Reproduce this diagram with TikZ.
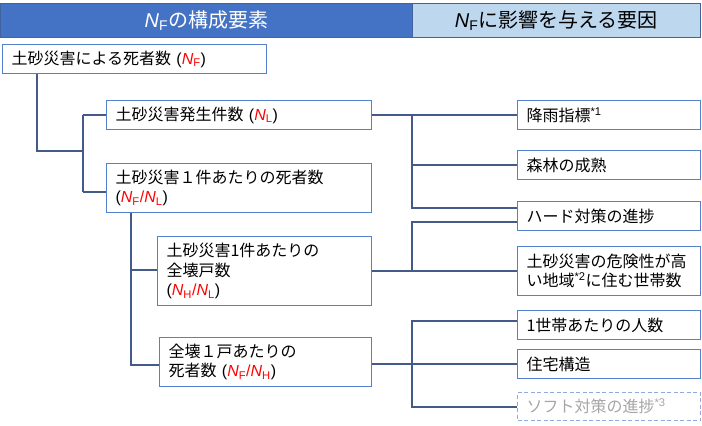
\documentclass[tikz,border=0pt]{standalone}
\usepackage{fontspec}
\setmainfont{Noto Sans CJK JP}
\newfontfamily\latf{Liberation Sans}
\usetikzlibrary{calc}
\definecolor{hdark}{HTML}{4472C4}
\definecolor{hlight}{HTML}{BDD7EE}
\definecolor{hborder}{HTML}{41649E}
\definecolor{boxc}{HTML}{5580CC}
\definecolor{linec}{HTML}{445A88}
\definecolor{softc}{HTML}{8FAADC}
\definecolor{softt}{HTML}{A6A6A6}
\definecolor{redt}{HTML}{FF0000}
\newcommand{\NS}[1]{{\latf\textit{N}\textsubscript{#1}}}
\newcommand{\LP}{{\latf(}}
\newcommand{\RP}{{\latf)}}
\newcommand{\SUP}[1]{{\latf\textsuperscript{#1}}}
\tikzset{
  hdr/.style={rectangle, draw=hborder, line width=0.8pt, anchor=north west, inner sep=0pt, font=\fontsize{20}{24}\selectfont},
  box/.style={rectangle, draw=boxc, line width=1.2pt, fill=white, anchor=north west, align=left, inner xsep=9pt, inner ysep=0pt, font=\fontsize{16}{19.5}\selectfont},
  softbox/.style={box, draw=softc, dash pattern=on 4pt off 2.5pt, text=softt},
  conn/.style={draw=linec, line width=1.25pt}
}
\begin{document}
\begin{tikzpicture}[x=1pt,y=-1pt]
\useasboundingbox (0,0) rectangle (702,426);
% headers
\node[hdr, fill=hdark, text=white, minimum width=412pt, minimum height=34pt] (h1) at (0,3) {\NS{F}の構成要素};
\node[hdr, fill=hlight, text=black, minimum width=288pt, minimum height=34pt] (h2) at (412,3) {\NS{F}に影響を与える要因};
% left boxes
\node[box, text width=246pt, minimum height=29pt] (b1) at (2,44) {土砂災害による死者数 \LP{\color{redt}\NS{F}}\RP};
\node[box, text width=247pt, minimum height=29pt] (b2) at (106,100) {土砂災害発生件数 \LP{\color{redt}\NS{L}}\RP};
\node[box, text width=247pt, minimum height=49pt] (b3) at (106,163) {土砂災害１件あたりの死者数\\\LP{\color{redt}\NS{F}{\latf/}\NS{L}}\RP};
\node[box, text width=196pt, minimum height=69pt] (b4) at (157,236) {土砂災害1件あたりの\\全壊戸数\\\LP{\color{redt}\NS{H}{\latf/}\NS{L}}\RP};
\node[box, text width=194pt, minimum height=49pt] (b5) at (159,337) {全壊１戸あたりの\\死者数 \LP{\color{redt}\NS{F}{\latf/}\NS{H}}\RP};
% right boxes
\node[box, text width=165pt, minimum height=29pt] (r1) at (517,100) {降雨指標\SUP{*1}};
\node[box, text width=165pt, minimum height=29pt] (r2) at (517,150) {森林の成熟};
\node[box, text width=165pt, minimum height=29pt] (r3) at (517,201) {ハード対策の進捗};
\node[box, text width=165pt, minimum height=49pt] (r4) at (517,246) {土砂災害の危険性が高\\い地域\SUP{*2}に住む世帯数};
\node[box, text width=165pt, minimum height=29pt] (r5) at (517,310) {1世帯あたりの人数};
\node[box, text width=165pt, minimum height=29pt] (r6) at (517,349) {住宅構造};
\node[softbox, text width=165pt, minimum height=28pt] (r7) at (517,392) {ソフト対策の進捗\SUP{*3}};
% junction coordinates
\coordinate (j1) at (37,151);
\coordinate (j2) at (83,151);
\coordinate (j2t) at (83,115);
\coordinate (j2b) at (83,192);
\coordinate (k1) at (131,270);
\coordinate (k2) at (131,365);
\coordinate (m1) at (412,114.5);
\coordinate (m2) at (412,208);
\coordinate (m3) at (412,222);
\coordinate (m4) at (412,321);
\coordinate (m5) at (412,364);
\coordinate (m6) at (412,407);
% left connectors
\draw[conn] (b1.south -| j1) -- (j1) -- (j2);
\draw[conn] (j2t) -- (j2b);
\draw[conn] (j2t) -- (j2t -| b2.west);
\draw[conn] (j2b) -- (j2b -| b3.west);
\draw[conn] (b3.south -| k2) -- (k2) -- (k2 -| b5.west);
\draw[conn] (k1) -- (k1 -| b4.west);
% right connectors
\draw[conn] (b2.east) -- (r1.west);
\draw[conn] (m1) -- (m2) -- (m2 -| r3.west);
\draw[conn] (m1 |- r2.west) -- (r2.west);
\draw[conn] (b4.east) -- (r4.west);
\draw[conn] (m3 |- r4.west) -- (m3) -- (m3 -| r3.west);
\draw[conn] (m5 -| b5.east) -- (m5 -| r6.west);
\draw[conn] (m4 -| r5.west) -- (m4) -- (m6) -- (m6 -| r7.west);
\end{tikzpicture}
\end{document}
